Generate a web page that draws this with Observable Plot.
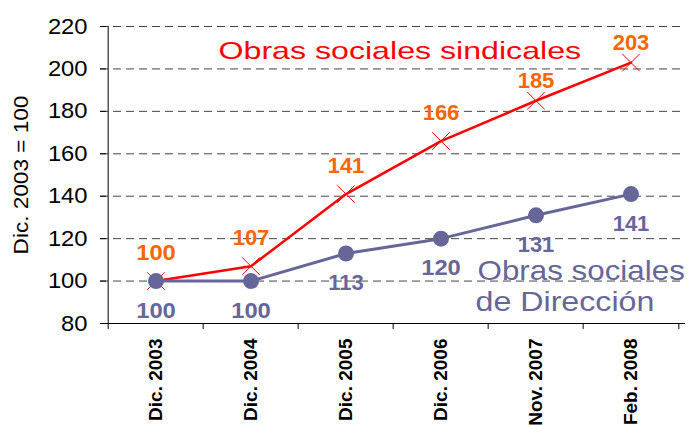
<!DOCTYPE html>
<html><head><meta charset="utf-8">
<script src="https://cdn.jsdelivr.net/npm/d3@7"></script>
<script src="https://cdn.jsdelivr.net/npm/@observablehq/plot@0.6"></script>
<style>
body{margin:0;background:#fff;}
#chart svg{font-family:"Liberation Sans",Arial,sans-serif;}
</style>
</head><body><div id="chart"></div>
<script>
const periods = ["Dic. 2003","Dic. 2004","Dic. 2005","Dic. 2006","Nov. 2007","Feb. 2008"];
const sindicales = [100,107,141,166,185,203];
const direccion = [100,100,113,120,131,141];
const yTicks = [80,100,120,140,160,180,200,220];
const gridTicks = [100,120,140,160,180,200,220];
const yLabel = ["Dic. 2003 = 100"];
const legendSind = ["Obras sociales sindicales"];
const legendDir1 = ["Obras sociales"];
const legendDir2 = ["de Dirección"];

const sindData = periods.map((p,i)=>({period:p, value:sindicales[i], i}));
const dirData = periods.map((p,i)=>({period:p, value:direccion[i], i}));

const W = 688, H = 425, mL = 106, mR = 8, mT = 26, mB = 102;
const frameW = W - mL - mR;
const step = frameW / periods.length;
const RED = "#ff0000", ORANGE = "#ff6600", PURPLE = "#666699";

const svg = Plot.plot({
  width: W, height: H,
  marginLeft: mL, marginRight: mR, marginTop: mT, marginBottom: mB,
  style: {background:"#fff", color:"#000", fontFamily:"Liberation Sans, Arial, sans-serif"},
  x: {type:"band", domain: periods, padding:0, axis:null},
  y: {domain:[80,220], axis:null},
  marks: [
    // grid and axes
    Plot.ruleY(gridTicks, {stroke:"#444", strokeWidth:1, strokeDasharray:"8,5", insetLeft:-6, insetRight:-5}),
    Plot.ruleY([80], {stroke:"#000", strokeWidth:1, insetRight:-5}),
    Plot.ruleY(yTicks, {stroke:"#000", strokeWidth:1, insetLeft:-6, insetRight:frameW}),
    Plot.ruleX([periods[0]], {y1:80, y2:220, dx:-step/2, stroke:"#000", strokeWidth:1}),
    Plot.ruleX(periods, {y1:80, y2:77.2, dx:-step/2, stroke:"#000"}),
    Plot.ruleX([periods[periods.length-1]], {y1:80, y2:77.2, dx:step/2, stroke:"#000"}),
    Plot.text(yTicks, {y: d => d, text: d => String(d), frameAnchor:"left", textAnchor:"end", lineAnchor:"middle", dx:-19, fontSize:22, fill:"#000"}),
    // series
    Plot.line(sindData, {x:"period", y:"value", stroke:RED, strokeWidth:2.5}),
    Plot.dot(sindData, {x:"period", y:"value", symbol:"times", r:8, stroke:RED, strokeWidth:1}),
    Plot.line(dirData, {x:"period", y:"value", stroke:PURPLE, strokeWidth:3}),
    Plot.dot(dirData, {x:"period", y:"value", r:8, fill:PURPLE, stroke:"none"}),
    // value labels
    Plot.text(sindData, {filter: d => d.i < 4, x:"period", y:"value", text:"value", fill:ORANGE, fontWeight:"bold", fontSize:22, lineAnchor:"bottom", dy:-21}),
    Plot.text(sindData, {filter: d => d.i >= 4, x:"period", y:"value", text:"value", fill:ORANGE, fontWeight:"bold", fontSize:22, lineAnchor:"bottom", dy:-13}),
    Plot.text(dirData, {x:"period", y:"value", text:"value", fill:PURPLE, fontWeight:"bold", fontSize:22, lineAnchor:"top", dy:21}),
    // category labels
    Plot.text(periods, {x: d => d, frameAnchor:"bottom", rotate:-90, textAnchor:"end", lineAnchor:"middle", dy:15, fontWeight:"bold", fontSize:19, fill:"#000"}),
    // y title
    Plot.text(yLabel, {frameAnchor:"left", dx:-85, rotate:-90, textAnchor:"middle", lineAnchor:"middle", fontSize:20, fill:"#000"}),
    // in-chart series names
    Plot.text(legendSind, {frameAnchor:"top-left", dx:112, dy:32, textAnchor:"start", lineAnchor:"bottom", fontSize:24, fill:RED}),
    Plot.text(legendDir1, {frameAnchor:"top-left", dx:371, dy:253, textAnchor:"start", lineAnchor:"bottom", fontSize:28, fill:PURPLE}),
    Plot.text(legendDir2, {frameAnchor:"top-left", dx:369, dy:284, textAnchor:"start", lineAnchor:"bottom", fontSize:28, fill:PURPLE})
  ]
});
document.getElementById("chart").appendChild(svg);

// Mimic the wide lettering of the reference: stretch each text along its own direction, around its anchor
const stretch = new Map();
yTicks.forEach(t => stretch.set(String(t), 1.08));
stretch.set(yLabel[0], 1.13);
stretch.set(legendSind[0], 1.34);
stretch.set(legendDir1[0], 1.12);
stretch.set(legendDir2[0], 1.15);
d3.select(svg).selectAll("text").each(function() {
  const f = stretch.get(this.textContent);
  if (!f) return;
  const t = this.getAttribute("transform") || "";
  const x = this.getAttribute("x");
  this.setAttribute("transform", (t + ` scale(${f},1)`).trim());
  if (x !== null && x !== "") this.setAttribute("x", (+x / f).toFixed(2));
});
</script>
</body></html>
